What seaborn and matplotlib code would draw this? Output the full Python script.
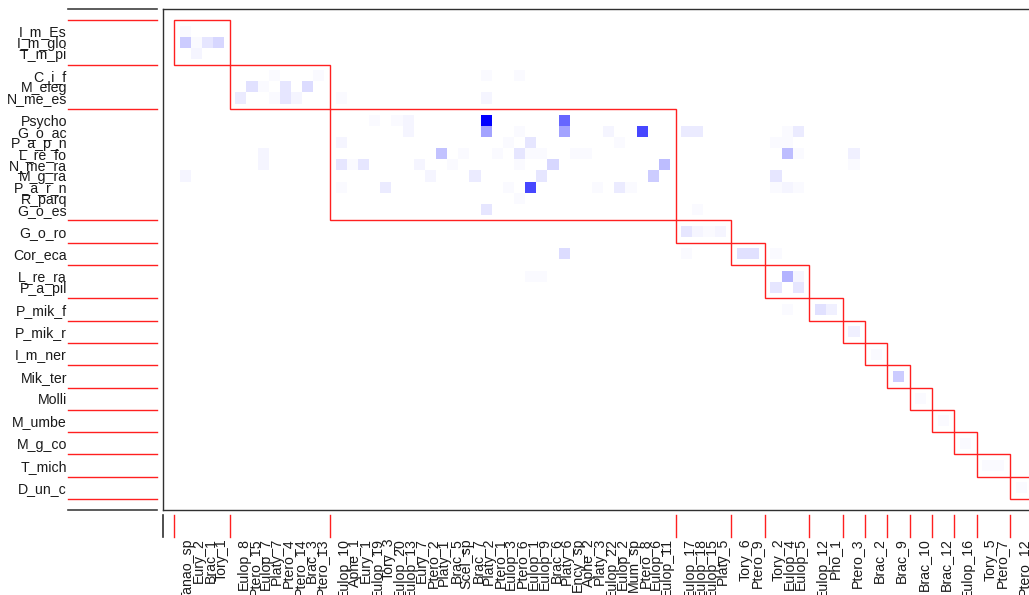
import numpy as np
import pandas as pd
import matplotlib
matplotlib.use("Agg")
import matplotlib.pyplot as plt
from matplotlib.colors import LinearSegmentedColormap
from matplotlib.patches import Rectangle
import seaborn as sns

# lower-level species (rows), grouped by module
row_modules = [
    ["I_m_Es", "I_m_glo", "T_m_pi"],
    ["C_i_f", "M_eleg", "N_me_es"],
    ["Psycho", "G_o_ac", "P_a_p_n", "L_re_fo", "N_me_ra", "M_g_ra", "P_a_r_n", "R_parq", "G_o_es"],
    ["G_o_ro"],
    ["Cor_eca"],
    ["L_re_ra", "P_a_pil"],
    ["P_mik_f"],
    ["P_mik_r"],
    ["I_m_ner"],
    ["Mik_ter"],
    ["Molli"],
    ["M_umbe"],
    ["M_g_co"],
    ["T_mich"],
    ["D_un_c"],
]

# higher-level species (columns), grouped by module
col_modules = [
    ["Tanao_sp", "Eury_2", "Brac_1", "Tory_1"],
    ["Eulop_8", "Ptero_15", "Eulop_7", "Platy_7", "Ptero_4", "Ptero_14", "Brac_3", "Ptero_13"],
    ["Eulop_10", "Aphe_1", "Eury_1", "Eulop_19", "Tory_3", "Eulop_20", "Eulop_13", "Eury_7",
     "Ptero_2", "Platy_1", "Brac_5", "Scel_sp", "Brac_7", "Platy_2", "Ptero_1", "Eulop_3",
     "Ptero_6", "Eulop_1", "Eulop_9", "Brac_6", "Platy_6", "Ency_sp", "Aphe_2", "Platy_3",
     "Eulop_22", "Eulop_2", "Mum_sp", "Ptero_8", "Eulop_6", "Eulop_11"],
    ["Eulop_17", "Eulop_18", "Eulop_15", "Platy_5"],
    ["Tory_6", "Ptero_9"],
    ["Tory_2", "Eulop_4", "Eulop_5"],
    ["Eulop_12", "Pho_1"],
    ["Ptero_3"],
    ["Brac_2"],
    ["Brac_9"],
    ["Brac_10"],
    ["Brac_12"],
    ["Eulop_16"],
    ["Tory_5", "Ptero_7"],
    ["Ptero_12"],
]

# interaction frequencies (row, column, count)
links_m1 = [
    ("I_m_Es", "Tanao_sp", 1), ("I_m_glo", "Tanao_sp", 10), ("I_m_glo", "Eury_2", 1),
    ("I_m_glo", "Brac_1", 5), ("I_m_glo", "Tory_1", 8), ("T_m_pi", "Eury_2", 2),
]
links_m2 = [
    ("C_i_f", "Platy_7", 1), ("C_i_f", "Ptero_13", 1), ("C_i_f", "Platy_2", 1), ("C_i_f", "Ptero_6", 1),
    ("M_eleg", "Ptero_15", 6), ("M_eleg", "Eulop_7", 1), ("M_eleg", "Ptero_4", 5), ("M_eleg", "Brac_3", 7),
    ("N_me_es", "Eulop_8", 4), ("N_me_es", "Platy_7", 1), ("N_me_es", "Ptero_4", 5),
    ("N_me_es", "Ptero_14", 2), ("N_me_es", "Eulop_10", 1), ("N_me_es", "Platy_2", 2),
]
links_m3 = [
    ("Psycho", "Eulop_19", 1), ("Psycho", "Eulop_20", 1), ("Psycho", "Eulop_13", 2),
    ("Psycho", "Platy_2", 50), ("Psycho", "Platy_6", 30),
    ("G_o_ac", "Eulop_13", 2), ("G_o_ac", "Platy_2", 18), ("G_o_ac", "Ptero_6", 1),
    ("G_o_ac", "Platy_6", 18), ("G_o_ac", "Eulop_22", 2), ("G_o_ac", "Ptero_8", 36),
    ("G_o_ac", "Eulop_17", 4), ("G_o_ac", "Eulop_18", 4), ("G_o_ac", "Eulop_4", 1), ("G_o_ac", "Eulop_5", 4),
    ("P_a_p_n", "Eulop_10", 2), ("P_a_p_n", "Eulop_3", 1), ("P_a_p_n", "Eulop_1", 5),
    ("P_a_p_n", "Eulop_2", 1), ("P_a_p_n", "Tory_2", 1), ("P_a_p_n", "Eulop_4", 1),
    ("L_re_fo", "Eulop_7", 2), ("L_re_fo", "Platy_1", 12), ("L_re_fo", "Scel_sp", 1),
    ("L_re_fo", "Ptero_1", 1), ("L_re_fo", "Ptero_6", 5), ("L_re_fo", "Eulop_1", 1),
    ("L_re_fo", "Eulop_9", 1), ("L_re_fo", "Ency_sp", 1), ("L_re_fo", "Aphe_2", 1),
    ("L_re_fo", "Eulop_4", 13), ("L_re_fo", "Eulop_5", 1), ("L_re_fo", "Ptero_3", 3),
    ("N_me_ra", "Eulop_7", 2), ("N_me_ra", "Eulop_10", 5), ("N_me_ra", "Aphe_1", 1),
    ("N_me_ra", "Eury_1", 5), ("N_me_ra", "Eury_7", 2), ("N_me_ra", "Brac_5", 1),
    ("N_me_ra", "Ptero_6", 1), ("N_me_ra", "Brac_6", 8), ("N_me_ra", "Eulop_11", 13), ("N_me_ra", "Ptero_3", 1),
    ("M_g_ra", "Tanao_sp", 2), ("M_g_ra", "Ptero_2", 2), ("M_g_ra", "Brac_7", 4),
    ("M_g_ra", "Eulop_9", 5), ("M_g_ra", "Eulop_6", 10), ("M_g_ra", "Tory_2", 5),
    ("P_a_r_n", "Eulop_10", 1), ("P_a_r_n", "Tory_3", 4), ("P_a_r_n", "Eulop_3", 1),
    ("P_a_r_n", "Eulop_1", 36), ("P_a_r_n", "Platy_3", 1), ("P_a_r_n", "Eulop_2", 4),
    ("P_a_r_n", "Mum_sp", 1), ("P_a_r_n", "Tory_2", 1), ("P_a_r_n", "Eulop_4", 2), ("P_a_r_n", "Eulop_5", 1),
    ("R_parq", "Ptero_6", 1),
    ("G_o_es", "Platy_2", 5), ("G_o_es", "Eulop_18", 1),
]
links_small = [
    ("G_o_ro", "Eulop_17", 5), ("G_o_ro", "Eulop_18", 2), ("G_o_ro", "Eulop_15", 1), ("G_o_ro", "Platy_5", 2),
    ("Cor_eca", "Eulop_17", 1), ("Cor_eca", "Platy_6", 7), ("Cor_eca", "Tory_6", 6),
    ("Cor_eca", "Ptero_9", 6), ("Cor_eca", "Tory_2", 1),
    ("L_re_ra", "Eulop_1", 1), ("L_re_ra", "Eulop_9", 1), ("L_re_ra", "Eulop_4", 15), ("L_re_ra", "Eulop_5", 2),
    ("P_a_pil", "Tory_2", 5), ("P_a_pil", "Eulop_5", 5),
    ("P_mik_f", "Eulop_4", 1), ("P_mik_f", "Eulop_12", 6), ("P_mik_f", "Pho_1", 3),
    ("P_mik_r", "Ptero_3", 3),
    ("I_m_ner", "Brac_2", 1),
    ("Mik_ter", "Brac_9", 10),
    ("Molli", "Brac_10", 1),
    ("M_umbe", "Brac_12", 1),
    ("M_g_co", "Eulop_16", 1),
    ("T_mich", "Tory_5", 1), ("T_mich", "Ptero_7", 1),
    ("D_un_c", "Ptero_12", 1),
]


def layout(modules):
    # each module takes n+1 grid units, species sit in the middle
    pos, starts, b = {}, [], 0
    for mod in modules:
        starts.append((b, len(mod)))
        for i, name in enumerate(mod):
            pos[name] = b + 1 + i
        b += len(mod) + 1
    return pos, starts, b


row_pos, row_starts, n_row_units = layout(row_modules)
col_pos, col_starts, n_col_units = layout(col_modules)

mat = np.zeros((n_row_units + 1, n_col_units + 1))
for r, c, v in links_m1 + links_m2 + links_m3 + links_small:
    mat[row_pos[r], col_pos[c]] = v
web = pd.DataFrame(mat)

plt.rcParams["font.family"] = ["Liberation Sans", "DejaVu Sans"]

fig = plt.figure(figsize=(10.29, 5.95), dpi=100)
W, H = 1029, 595
ux = 11.147
left_px, top_px, bot_px = 162.85, 8.9, 510.0
right_px = left_px + ux * (n_col_units + 2)
ax = fig.add_axes([left_px / W, (H - bot_px) / H, (right_px - left_px) / W, (bot_px - top_px) / H])

cmap = LinearSegmentedColormap.from_list("wb", ["white", "blue"])
sns.heatmap(web, cmap=cmap, vmin=0, vmax=web.values.max(), cbar=False,
            xticklabels=False, yticklabels=False, linewidths=0, ax=ax)

ax.set_xlim(-0.5, n_col_units + 1.5)
ax.set_ylim(n_row_units + 1.5, -0.5)
for s in ["left", "top", "bottom", "right"]:
    ax.spines[s].set_visible(True)
    ax.spines[s].set_color("#303030")
    ax.spines[s].set_linewidth(1.0)

# module boxes
for (rb, rn), (cb, cn) in zip(row_starts, col_starts):
    ax.add_patch(Rectangle((cb + 0.5, rb + 0.5), cn + 1, rn + 1, fill=False,
                           edgecolor="#ff2020", lw=1.0, zorder=5))

# left margin: separators and row labels
ytr = ax.get_yaxis_transform()
x0 = (68 - left_px) / (right_px - left_px)
x1 = (157 - left_px) / (right_px - left_px)
xl = (67 - left_px) / (right_px - left_px)
sep_rows = [b for b, n in row_starts] + [n_row_units]
for b in sep_rows:
    ax.plot([x0, x1], [b + 0.5, b + 0.5], color="#ff2020", lw=1.0, transform=ytr, clip_on=False)
for yb in [-0.5, n_row_units + 1.5]:
    ax.plot([x0, x1], [yb, yb], color="#404040", lw=1.2, transform=ytr, clip_on=False)
for name, p in row_pos.items():
    ax.text(xl, p + 0.62, name, transform=ytr, ha="right", va="center",
            fontsize=10.2, color="#1a1a1a")

# bottom margin: separators and column labels
xtr = ax.get_xaxis_transform()
hpx = bot_px - top_px
y0 = -(515 - bot_px) / hpx
y1 = -(537 - bot_px) / hpx
yl = -(538 - bot_px) / hpx
sep_cols = [b for b, n in col_starts] + [n_col_units]
for b in sep_cols:
    ax.plot([b + 0.5, b + 0.5], [y0, y1], color="#ff2020", lw=1.0, transform=xtr, clip_on=False)
ax.plot([-0.5, -0.5], [y0, y1], color="#303030", lw=1.2, transform=xtr, clip_on=False)
for name, p in col_pos.items():
    ax.text(p + 0.75, yl, name, transform=xtr, ha="center", va="top", rotation=90,
            fontsize=10.2, color="#1a1a1a")

fig.savefig("out.png", dpi=100)
